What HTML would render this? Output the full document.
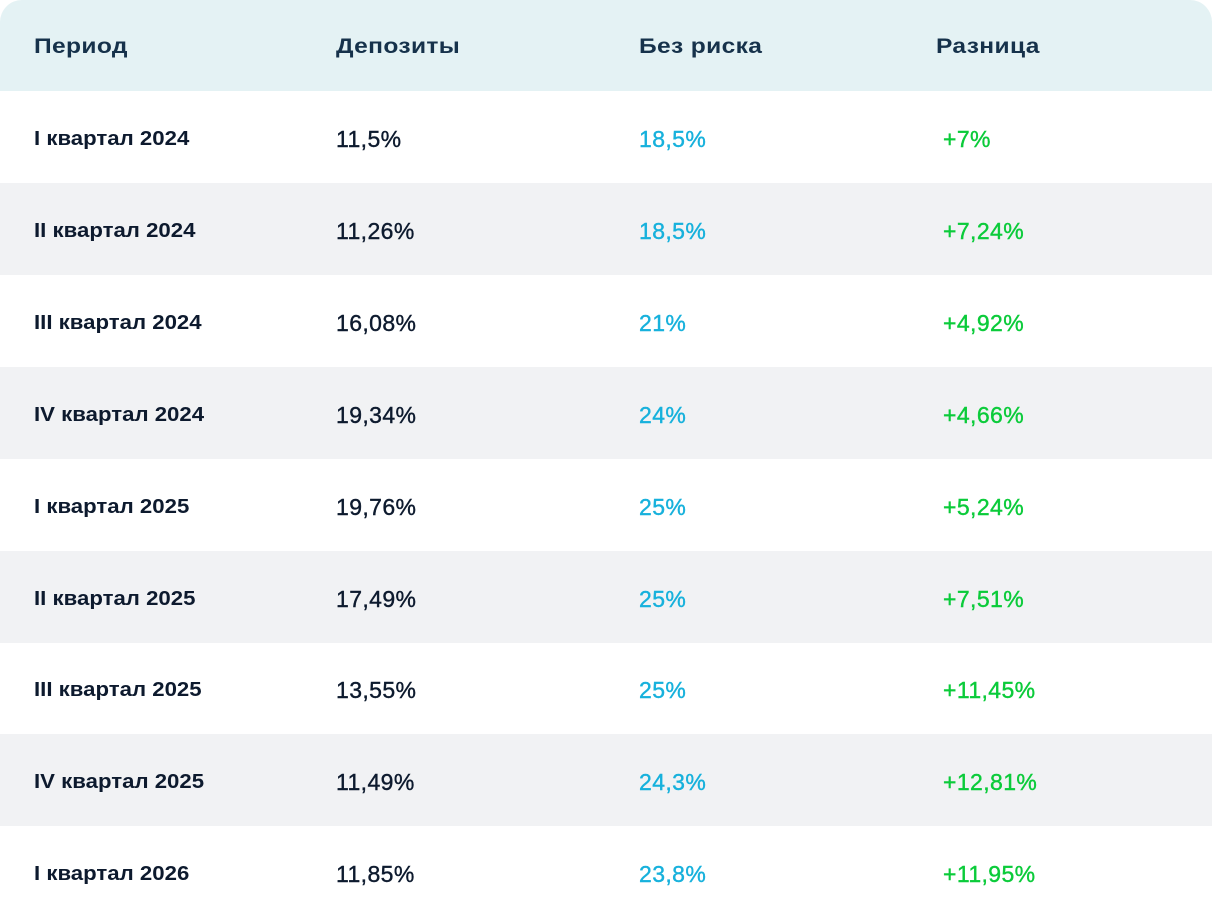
<!DOCTYPE html>
<html><head><meta charset="utf-8"><style>
body{margin:0;width:1212px;height:918px;background:#fff;font-family:"Liberation Sans",sans-serif;overflow:hidden}
.t{position:relative;width:1212px;height:918px;border-radius:22px 22px 0 0;overflow:hidden}
.r{position:absolute;left:0;width:1212px}
.h{top:0;height:91px;background:#e4f2f4}
.c{position:absolute;white-space:nowrap;transform-origin:left center}
.h .c{top:35px;font-size:21px;font-weight:700;color:#16324b;letter-spacing:0.3px;transform:scaleX(1.17)}
.p{font-size:20px;font-weight:700;color:#0d1a2e;transform:scaleX(1.11)}
.v{font-size:23px;color:#0d1a2e;-webkit-text-stroke:0.4px currentColor;letter-spacing:0.4px}
.b{color:#17b1dc}.g{color:#0bcb3a}
.gr{background:#f1f2f4}
</style></head><body><div class="t">
<div class="r h"><div class="c" style="left:34px">Период</div><div class="c" style="left:336px">Депозиты</div><div class="c" style="left:639px">Без риска</div><div class="c" style="left:936px">Разница</div></div>
<div id="rows"></div>
</div>
<script>
var d=[["I квартал 2024","11,5%","18,5%","+7%"],["II квартал 2024","11,26%","18,5%","+7,24%"],["III квартал 2024","16,08%","21%","+4,92%"],["IV квартал 2024","19,34%","24%","+4,66%"],["I квартал 2025","19,76%","25%","+5,24%"],["II квартал 2025","17,49%","25%","+7,51%"],["III квартал 2025","13,55%","25%","+11,45%"],["IV квартал 2025","11,49%","24,3%","+12,81%"],["I квартал 2026","11,85%","23,8%","+11,95%"]];
var h="";d.forEach(function(x,i){var top=91+i*91.9;h+='<div class="r'+(i%2?' gr':'')+'" style="top:'+top+'px;height:92px"><div class="c p" style="left:34px;top:37px">'+x[0]+'</div><div class="c v" style="left:336px;top:35px">'+x[1]+'</div><div class="c v b" style="left:639px;top:35px">'+x[2]+'</div><div class="c v g" style="left:943px;top:35px">'+x[3]+'</div></div>';});
document.getElementById("rows").outerHTML=h;
</script>
</body></html>
